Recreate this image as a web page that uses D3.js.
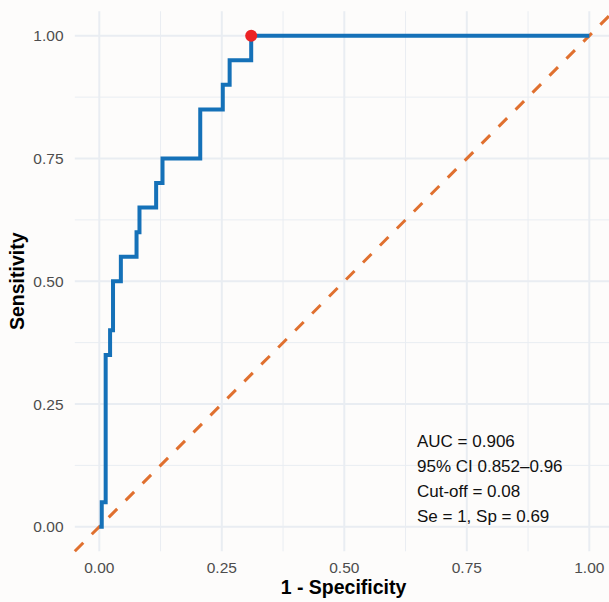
<!DOCTYPE html>
<html>
<head>
<meta charset="utf-8">
<script src="https://cdn.jsdelivr.net/npm/d3@7"></script>
<style>
  html, body { margin: 0; padding: 0; background: #fdfcfb; }
  svg { display: block; font-family: "Liberation Sans", Arial, sans-serif; }
  .grid line { stroke: #e9edf2; }
  .tick-label { fill: #4d4d4d; font-size: 15.5px; }
  .axis-title { fill: #000; font-size: 19.5px; font-weight: bold; }
  .note { fill: #111; font-size: 17px; }
</style>
</head>
<body>
<svg id="chart" width="609" height="602"></svg>
<script>
// ROC curve vertices (1 - specificity, sensitivity), drawn as steps
const fpr = [0, 0.005, 0.013, 0.022, 0.028, 0.044, 0.076, 0.082, 0.116, 0.129, 0.206, 0.252, 0.266, 0.31, 1];
const tpr = [0, 0.05, 0.35, 0.40, 0.50, 0.55, 0.60, 0.65, 0.70, 0.75, 0.85, 0.90, 0.95, 1, 1];

const cutPoint = [0.31, 1];
const ticks = [0, 0.25, 0.5, 0.75, 1];
const minorTicks = [0.125, 0.375, 0.625, 0.875];
const notes = ["AUC = 0.906", "95% CI 0.852\u20130.96", "Cut-off = 0.08", "Se = 1, Sp = 0.69"];

const svg = d3.select("#chart");
const x = d3.scaleLinear().domain([-0.05, 1.05]).range([74.8, 613.8]);
const y = d3.scaleLinear().domain([-0.05, 1.05]).range([551.3, 11.2]);

const grid = svg.append("g").attr("class", "grid");
// minor grid
minorTicks.forEach(t => {
    grid.append("line")
        .attr("x1", x(-0.05)).attr("x2", x(1.05))
        .attr("y1", y(t)).attr("y2", y(t))
        .attr("stroke-width", 1);
    grid.append("line")
        .attr("x1", x(t)).attr("x2", x(t))
        .attr("y1", y(-0.05)).attr("y2", y(1.05))
        .attr("stroke-width", 1);
});
// major grid
ticks.forEach(t => {
    grid.append("line")
        .attr("x1", x(-0.05)).attr("x2", x(1.05))
        .attr("y1", y(t)).attr("y2", y(t))
        .attr("stroke-width", 2);
    grid.append("line")
        .attr("x1", x(t)).attr("x2", x(t))
        .attr("y1", y(-0.05)).attr("y2", y(1.05))
        .attr("stroke-width", 2);
});

// chance line
svg.append("line")
    .attr("x1", x(-0.05)).attr("y1", y(-0.05))
    .attr("x2", x(1.05)).attr("y2", y(1.05))
    .attr("stroke", "#e0702f")
    .attr("stroke-width", 3)
    .attr("stroke-dasharray", "12,12");

// ROC curve
const roc = fpr.map((f, i) => [f, tpr[i]]);
svg.append("path")
    .datum(roc)
    .attr("d", d3.line()
        .x(d => x(d[0]))
        .y(d => y(d[1]))
        .curve(d3.curveStepAfter))
    .attr("fill", "none")
    .attr("stroke", "#1571b8")
    .attr("stroke-width", 4)
    .attr("stroke-linejoin", "miter");

svg.append("circle")
    .attr("cx", x(cutPoint[0]))
    .attr("cy", y(cutPoint[1]))
    .attr("r", 6)
    .attr("fill", "#ec2224");

// tick labels
svg.append("g").selectAll("text")
    .data(ticks)
    .join("text")
    .attr("class", "tick-label")
    .attr("x", 63.5)
    .attr("y", d => y(d) + 5.5)
    .attr("text-anchor", "end")
    .text(d => d3.format(".2f")(d));

svg.append("g").selectAll("text")
    .data(ticks)
    .join("text")
    .attr("class", "tick-label")
    .attr("x", d => x(d))
    .attr("y", 572.7)
    .attr("text-anchor", "middle")
    .text(d => d3.format(".2f")(d));

// axis titles
svg.append("text")
    .attr("class", "axis-title")
    .attr("x", 343.5)
    .attr("y", 594.3)
    .attr("text-anchor", "middle")
    .text("1 - Specificity");

svg.append("text")
    .attr("class", "axis-title")
    .attr("transform", "translate(24," + (y(0.5)) + ") rotate(-90)")
    .attr("text-anchor", "middle")
    .text("Sensitivity");

// annotation
svg.append("g").selectAll("text")
    .data(notes)
    .join("text")
    .attr("class", "note")
    .attr("x", 417)
    .attr("y", (d, i) => 446.8 + i * 25)
    .text(d => d);
</script>
</body>
</html>
